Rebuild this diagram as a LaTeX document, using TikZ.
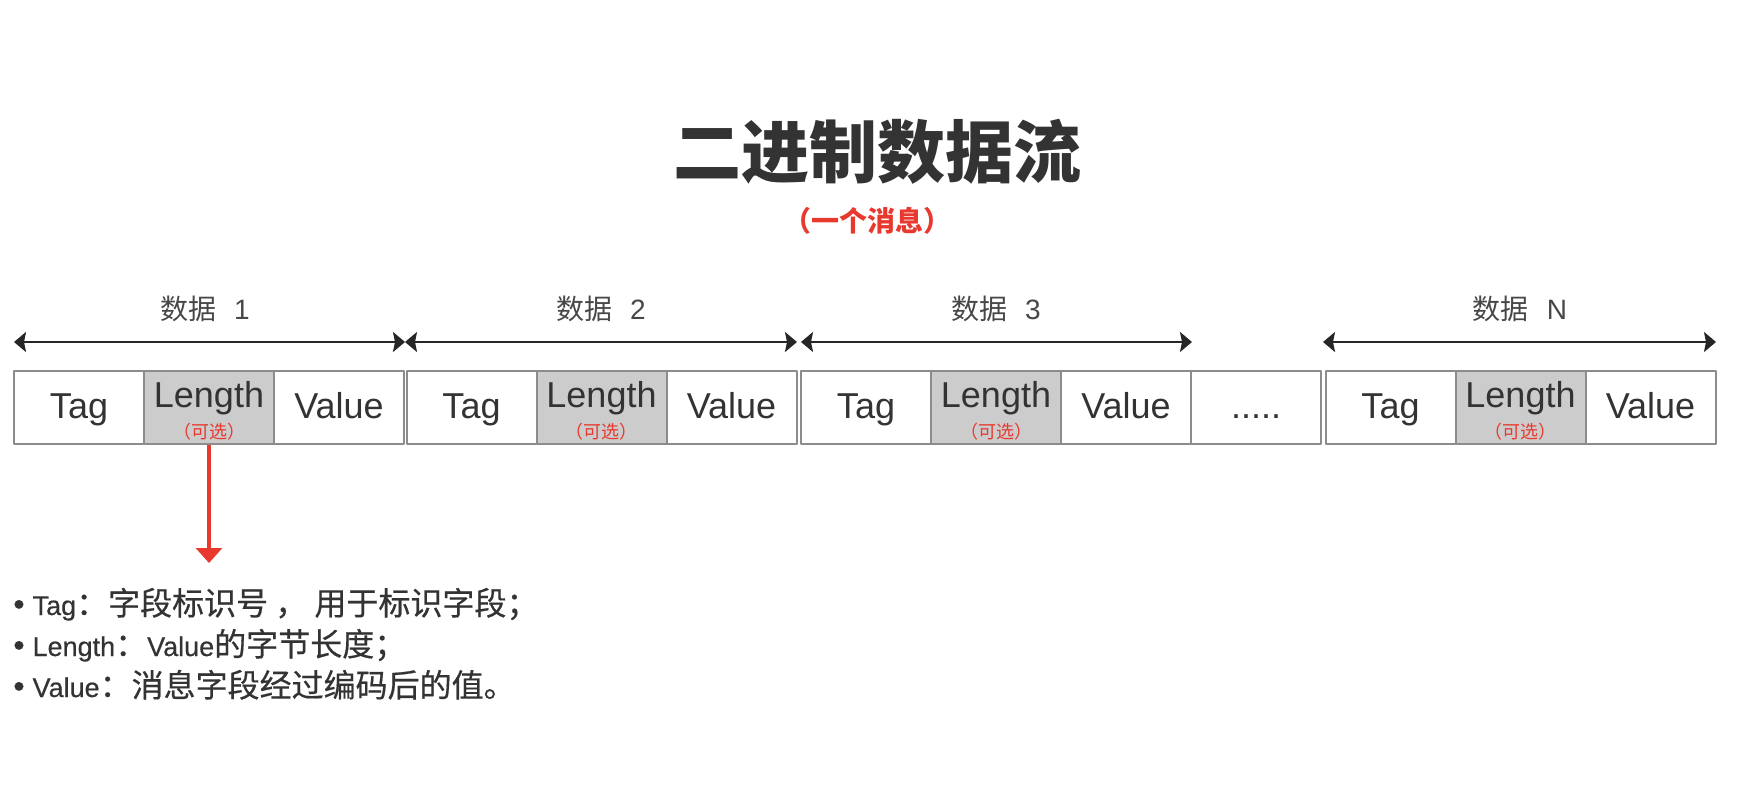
\documentclass[tikz,border=0pt]{standalone}
\usepackage{fontspec}
\setmainfont{Liberation Sans}
\newfontfamily\cjk{Noto Sans CJK SC}
\newfontfamily\cjkmed{Noto Sans CJK SC}[FakeBold=0.5]
\newfontfamily\latmed{Liberation Sans}[FakeBold=0.5]
\usetikzlibrary{arrows.meta}

\definecolor{txtgray}{HTML}{333333}
\definecolor{boxgray}{HTML}{8C8C8C}
\definecolor{lengray}{HTML}{CCCCCC}
\definecolor{tipred}{HTML}{E8392F}

\tikzset{
  cell/.style={draw=boxgray, line width=1pt, minimum width=65pt, minimum height=36.6pt,
    inner sep=0pt, text=txtgray, font=\fontsize{18}{20}\selectfont,
    text height=14pt, text depth=3pt},
  lencell/.style={cell, fill=lengray},
  lentext/.style={anchor=base, inner sep=0pt, text=txtgray, font=\fontsize{18}{20}\selectfont},
  opttext/.style={inner sep=0pt, text=tipred, font=\cjk\fontsize{9}{10}\selectfont},
  datarrow/.style={{Stealth[inset=1pt,length=6pt,width=10pt]}-{Stealth[inset=1pt,length=6pt,width=10pt]},
    line width=1pt, draw=black!85},
  datlabel/.style={inner sep=0pt, text=txtgray!90, font=\fontsize{14}{16}\selectfont},
  redarrow/.style={-{Triangle[length=7.5pt,width=13pt]}, line width=1.6pt, draw=tipred},
  note/.style={anchor=base west, inner sep=0pt, text=txtgray, font=\latmed\fontsize{13.5}{15}\selectfont}
}
\newcommand{\zh}[1]{{\cjkmed\fontsize{16}{18}\selectfont #1}}
\newcommand{\dotmark}{{\fontsize{16}{16}\selectfont •}\hspace{4pt}}

\begin{document}
\begin{tikzpicture}[x=0.5pt, y=-0.5pt, line join=round]
      \def\ym{407.3}
      \def\yb{407.3}
      \def\yo{431.7}
      \def\ya{342}
      \useasboundingbox (0,0) rectangle (1750,798);

      % title
      \node[text=txtgray, font=\cjk\bfseries\fontsize{34}{38}\selectfont] (title) at (877,152) {二进制数据流};
      \node[text=tipred, font=\cjk\bfseries\fontsize{14}{17}\selectfont] (sub) at (867,221) {（一个消息）};

      % data 1
      \node[cell] (t1) at (79,\ym) {Tag};
      \node[lencell] (l1) at (209,\ym) {};
      \node[cell] (v1) at (339,\ym) {Value};
      % data 2
      \node[cell] (t2) at (471.5,\ym) {Tag};
      \node[lencell] (l2) at (601.5,\ym) {};
      \node[cell] (v2) at (731.5,\ym) {Value};
      % data 3
      \node[cell] (t3) at (866,\ym) {Tag};
      \node[lencell] (l3) at (996,\ym) {};
      \node[cell] (v3) at (1126,\ym) {Value};
      % more
      \node[cell] (more) at (1256,\ym) {.....};
      % data N
      \node[cell] (tN) at (1390.5,\ym) {Tag};
      \node[lencell] (lN) at (1520.5,\ym) {};
      \node[cell] (vN) at (1650.5,\ym) {Value};

      % Length (optional) texts
      \node[lentext] (lt1) at (209,\yb) {Length};
      \node[lentext] (lt2) at (601.5,\yb) {Length};
      \node[lentext] (lt3) at (996,\yb) {Length};
      \node[lentext] (ltN) at (1520.5,\yb) {Length};
      \node[opttext] (o1) at (209,\yo) {（可选）};
      \node[opttext] (o2) at (601.5,\yo) {（可选）};
      \node[opttext] (o3) at (996,\yo) {（可选）};
      \node[opttext] (oN) at (1520.5,\yo) {（可选）};

      % span arrows
      \coordinate (a0) at (14,\ya);
      \coordinate (a1) at (405,\ya);
      \coordinate (a2) at (797,\ya);
      \coordinate (a3s) at (801,\ya);
      \coordinate (a3e) at (1192,\ya);
      \coordinate (aNs) at (1323,\ya);
      \coordinate (aNe) at (1716,\ya);
      \draw[datarrow] (a0) -- (a1);
      \draw[datarrow] (a1) -- (a2);
      \draw[datarrow] (a3s) -- (a3e);
      \draw[datarrow] (aNs) -- (aNe);

      \node[datlabel] (d1) at (205,309) {{\cjk 数据}\hspace{9pt}1};
      \node[datlabel] (d2) at (601,309) {{\cjk 数据}\hspace{9pt}2};
      \node[datlabel] (d3) at (996,309) {{\cjk 数据}\hspace{9pt}3};
      \node[datlabel] (dN) at (1520,309) {{\cjk 数据}\hspace{9pt}N};

      % explanation
      \coordinate (tip) at (209,563);
      \draw[redarrow] (l1.south) -- (tip);

      \node[note] (n1) at (13,615) {\dotmark Tag\zh{：字段标识号 ， 用于标识字段；}};
      \node[note] (n2) at (13,656) {\dotmark Length\zh{：}Value\zh{的字节长度；}};
      \node[note] (n3) at (13,697) {\dotmark Value\zh{：消息字段经过编码后的值。}};

    \end{tikzpicture}
\end{document}
